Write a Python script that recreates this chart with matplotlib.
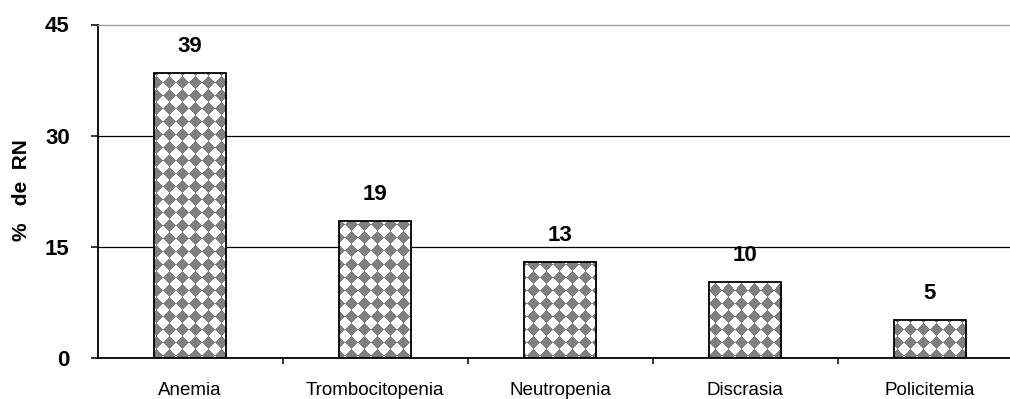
import numpy as np
import matplotlib
matplotlib.use("Agg")
import matplotlib.pyplot as plt

# data
categorias = ["Anemia", "Trombocitopenia", "Neutropenia", "Discrasia", "Policitemia"]
porcentaje = [38.5, 18.5, 13.0, 10.3, 5.1]
etiquetas = ["39", "19", "13", "10", "5"]
yticks = [0, 15, 30, 45]

plt.rcParams['font.family'] = ['Liberation Sans', 'DejaVu Sans']

W, H = 1010, 399
fig = plt.figure(figsize=(W / 100, H / 100), dpi=100)
fig.patch.set_facecolor("white")

# axes box in pixels: y-axis at x=97.5, zero at y=358, 45 at y=24.5, 185px per category
ax_l, ax_b, ax_w, ax_h = 97.5, H - 358, 925, 333.5
ax = fig.add_axes([ax_l / W, ax_b / H, ax_w / W, ax_h / H])

x = np.arange(len(categorias))
bars = ax.bar(x, porcentaje, width=0.39, facecolor="none", edgecolor="black",
              linewidth=1.3, zorder=3)

# diamond pattern texture for the bar fill, one texture pixel per screen pixel
nh, nw = int(round(ax_h)), int(ax_w)
yy, xx = np.mgrid[0:nh, 0:nw]
p = 13
u = (xx % p) - (p - 1) / 2
v = (yy % p) - (p - 1) / 2
mask = (np.abs(u) + np.abs(v)) <= (p - 1) / 2 + 0.3
tex = np.ones((nh, nw, 3))
tex[mask] = 0.5
for b in bars:
    im = ax.imshow(tex, extent=(-0.5, len(categorias) - 0.5, 0, 45), aspect="auto",
                   interpolation="nearest", zorder=2)
    im.set_clip_path(b)

for xi, v_, lab in zip(x, porcentaje, etiquetas):
    ax.annotate(lab, (xi, v_), xytext=(0, 15), textcoords="offset points",
                ha="center", va="baseline", fontsize=16, fontweight="bold")

# gridlines behind the bars
for yv in yticks[1:-1]:
    ax.axhline(yv, color="black", linewidth=0.9, zorder=1)

ax.set_xlim(-0.5, len(categorias) - 0.5)
ax.set_ylim(0, 45)

ax.set_yticks(yticks)
ax.set_yticklabels([str(t) for t in yticks], fontsize=16, fontweight="bold")
ax.tick_params(axis="y", direction="out", length=5, width=1.1, pad=15)

ax.set_xticks(x + 0.5, minor=False)
ax.set_xticklabels([])
ax.set_xticks(x, minor=True)
ax.set_xticklabels(categorias, minor=True, fontsize=13.5)
ax.tick_params(axis="x", which="major", direction="out", length=4, width=1.1)
ax.tick_params(axis="x", which="minor", length=0, pad=17)

ax.spines["left"].set_linewidth(1.3)
ax.spines["bottom"].set_linewidth(1.3)
ax.spines["top"].set_color("#a0a0a0")
ax.spines["top"].set_linewidth(1.0)
ax.spines["right"].set_visible(False)

fig.text(22 / W, 1 - 190 / H, "%   de  RN", rotation=90, ha="center", va="center",
         fontsize=15, fontweight="bold")

fig.savefig("out.png", dpi=100, facecolor="white")
